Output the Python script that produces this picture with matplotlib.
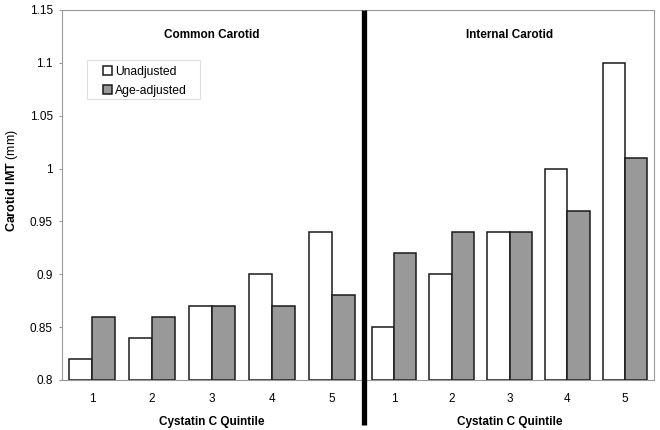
import numpy as np
import matplotlib
matplotlib.use("Agg")
import matplotlib.pyplot as plt
from matplotlib.lines import Line2D
from matplotlib.patches import Rectangle

plt.rcParams['font.family'] = ['Liberation Sans', 'DejaVu Sans']
plt.rcParams['mathtext.fontset'] = 'custom'
plt.rcParams['mathtext.bf'] = 'Liberation Sans:bold'
plt.rcParams['mathtext.rm'] = 'Liberation Sans'

# dados
quintis = ['1', '2', '3', '4', '5']
comum_bruto = [0.82, 0.84, 0.87, 0.90, 0.94]
comum_idade = [0.86, 0.86, 0.87, 0.87, 0.88]
interna_bruto = [0.85, 0.90, 0.94, 1.00, 1.10]
interna_idade = [0.92, 0.94, 0.94, 0.96, 1.01]
yticks = [0.8, 0.85, 0.9, 0.95, 1.0, 1.05, 1.1, 1.15]
ytick_labels = ['0.8', '0.85', '0.9', '0.95', '1', '1.05', '1.1', '1.15']

W, H = 660, 430
fig = plt.figure(figsize=(W/100, H/100), dpi=100)

# eixos em pixels: (esq, topo, dir, baixo)
def px_axes(l, t, r, b):
    return fig.add_axes([l/W, 1 - b/H, (r - l)/W, (b - t)/H])

ax1 = px_axes(62, 10, 362, 380)
ax2 = px_axes(365, 10, 654, 380)

x = np.arange(len(quintis))
w = 0.385
cor_borda = '#1a1a1a'
cinza = '#999999'

for ax, bruto, idade, titulo in [(ax1, comum_bruto, comum_idade, 'Common Carotid'),
                                  (ax2, interna_bruto, interna_idade, 'Internal Carotid')]:
    ax.bar(x - w/2, np.array(bruto) - 0.8, w, bottom=0.8, color='white',
           edgecolor=cor_borda, linewidth=1.1, label='Unadjusted')
    ax.bar(x + w/2, np.array(idade) - 0.8, w, bottom=0.8, color=cinza,
           edgecolor=cor_borda, linewidth=1.1, label='Age-adjusted')
    ax.set_xlim(-0.5, 4.5)
    ax.set_ylim(0.8, 1.15)
    ax.set_xticks(x)
    ax.set_xticklabels(quintis, fontsize=8.5)
    ax.tick_params(axis='x', length=0, pad=9)
    for s in ax.spines.values():
        s.set_color('#999999')
        s.set_linewidth(0.8)
    ax.set_xlabel('Cystatin C Quintile', fontsize=8.5, fontweight='bold', labelpad=8)
    ax.text(0.5, 0.932, titulo, transform=ax.transAxes, ha='center', va='center',
            fontsize=8.5, fontweight='bold')

ax1.set_yticks(yticks)
ax1.set_yticklabels(ytick_labels, fontsize=8.5)
ax1.tick_params(axis='y', length=2.5, color='#999999', pad=4)
ax2.set_yticks([])
fig.text(12/W, 1 - 180/H, r'$\mathbf{Carotid\ IMT}$ (mm)', fontsize=9,
         rotation=90, ha='center', va='center')

# legenda sem moldura + moldura clara desenhada à parte
leg = ax1.legend(loc='upper left', bbox_to_anchor=((103 - 62)/300, 1 - (66 - 10)/370),
                 fontsize=8.7, frameon=False,
                 handlelength=0.75, handleheight=0.75, handletextpad=0.25,
                 borderpad=0, labelspacing=0.55, borderaxespad=0)
fig.add_artist(Rectangle((87/W, 1 - 99/H), 113/W, 39/H, fill=False,
                         edgecolor='#dddddd', linewidth=0.8))

# linha preta grossa separando os painéis
fig.add_artist(Line2D([363.5/W, 363.5/W], [1 - 10/H, 1 - 425/H], color='black',
                      linewidth=3.8, solid_capstyle='butt'))

fig.savefig('out.png', dpi=100)
